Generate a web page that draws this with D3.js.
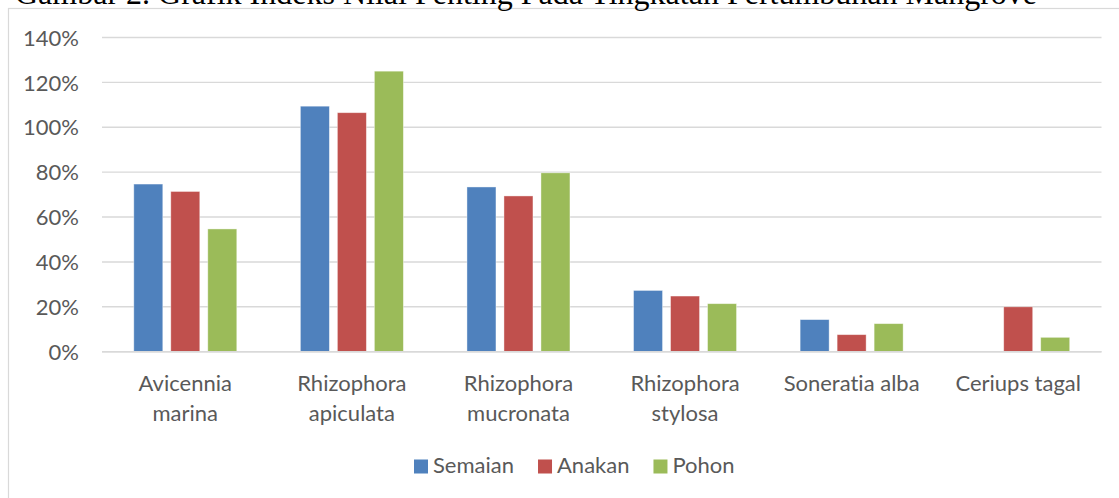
<!DOCTYPE html>
<html>
<head>
<meta charset="utf-8">
<script src="https://cdn.jsdelivr.net/npm/d3@7"></script>
<style>
  html, body { margin: 0; padding: 0; background: #ffffff; overflow: hidden; }
  svg { display: block; }
  text { font-variant-ligatures: none; font-feature-settings: "liga" 0; }
</style>
</head>
<body>
<svg id="chart" width="1119" height="498"></svg>
<script>
const titleText = "Gambar 2. Grafik Indeks Nilai Penting Pada Tingkatan Pertumbuhan Mangrove";
const categories = [
  ["Avicennia", "marina"],
  ["Rhizophora", "apiculata"],
  ["Rhizophora", "mucronata"],
  ["Rhizophora", "stylosa"],
  ["Soneratia alba"],
  ["Ceriups tagal"]
];
const seriesNames = ["Semaian", "Anakan", "Pohon"];
const seriesColors = ["#4f81bd", "#c0504d", "#9bbb59"];
const semaian = [74.7, 109.4, 73.4, 27.3, 14.3, 0];
const anakan  = [71.4, 106.5, 69.4, 24.8, 7.6, 20.0];
const pohon   = [54.7, 125.0, 79.7, 21.4, 12.5, 6.4];
const yTicks = [0, 20, 40, 60, 80, 100, 120, 140];

const seriesValues = [semaian, anakan, pohon];
const catKeys = categories.map(c => c.join(" "));

const svg = d3.select("#chart");
const font = "Lato, 'Open Sans', sans-serif";
const fs = 22;
const textColor = "#595959";

// chart frame
svg.append("rect")
  .attr("x", 8.5).attr("y", 8.5)
  .attr("width", 1200).attr("height", 600)
  .attr("fill", "#ffffff")
  .attr("stroke", "#d9d9d9").attr("stroke-width", 1.2);

// title (partially cut off at top, as in the reference)
svg.append("text")
  .attr("x", 15).attr("y", 4)
  .attr("font-family", "'Liberation Serif', 'Times New Roman', serif")
  .attr("font-size", 32)
  .attr("fill", "#000000")
  .text(titleText);

const plotLeft = 102, plotRight = 1101.5, plotTop = 37.5, plotBottom = 351.7;

const y = d3.scaleLinear().domain([0, 140]).range([plotBottom, plotTop]);
const x0 = d3.scaleBand().domain(catKeys).range([plotLeft, plotRight]).padding(0);
const groupW = 103;
const groupOff = (x0.bandwidth() - groupW) / 2;
const x1 = d3.scaleBand().domain(seriesNames).range([groupOff, groupOff + groupW])
  .paddingInner(0.216).paddingOuter(0);

// gridlines
svg.append("g").selectAll("line").data(yTicks).join("line")
  .attr("x1", plotLeft).attr("x2", plotRight)
  .attr("y1", d => y(d)).attr("y2", d => y(d))
  .attr("stroke", "#d9d9d9").attr("stroke-width", 1.4);

// y axis labels
const yAxis = d3.axisLeft(y).tickValues(yTicks).tickSize(0).tickPadding(0)
  .tickFormat(d => d + "%");
const gy = svg.append("g").attr("transform", `translate(79,0)`).call(yAxis);
gy.select(".domain").remove();
gy.selectAll("text")
  .attr("font-family", font).attr("font-size", fs)
  .attr("fill", textColor).attr("dy", "0.35em");

// bars
const barsData = [];
catKeys.forEach((c, i) => {
  seriesNames.forEach((s, j) => {
    barsData.push({ cat: c, series: s, value: seriesValues[j][i], color: seriesColors[j] });
  });
});
svg.append("g").selectAll("rect").data(barsData.filter(d => d.value > 0)).join("rect")
  .attr("x", d => x0(d.cat) + x1(d.series))
  .attr("width", x1.bandwidth())
  .attr("y", d => y(d.value))
  .attr("height", d => y(0) - y(d.value))
  .attr("fill", d => d.color)
  .attr("stroke", "#ffffff").attr("stroke-opacity", 0.5).attr("stroke-width", 0.8);

// baseline redraw
svg.append("line")
  .attr("x1", plotLeft).attr("x2", plotRight)
  .attr("y1", y(0)).attr("y2", y(0))
  .attr("stroke", "#d9d9d9").attr("stroke-width", 1.4);

// x labels
const gx = svg.append("g");
categories.forEach((lines, i) => {
  const cx = x0(catKeys[i]) + x0.bandwidth() / 2;
  const t = gx.append("text")
    .attr("text-anchor", "middle")
    .attr("font-family", font).attr("font-size", fs)
    .attr("fill", textColor);
  lines.forEach((ln, k) => {
    t.append("tspan").attr("x", cx).attr("y", 390.7 + k * 30).text(ln);
  });
});

// legend
const legend = svg.append("g");
let lx = 414;
seriesNames.forEach((s, j) => {
  legend.append("rect")
    .attr("x", lx).attr("y", 459.5).attr("width", 14).attr("height", 14)
    .attr("fill", seriesColors[j]);
  const t = legend.append("text")
    .attr("x", lx + 19).attr("y", 473)
    .attr("font-family", font).attr("font-size", fs)
    .attr("fill", textColor).text(s);
  const w = t.node().getComputedTextLength();
  lx = lx + 19 + w + 24;
});
</script>
</body>
</html>
